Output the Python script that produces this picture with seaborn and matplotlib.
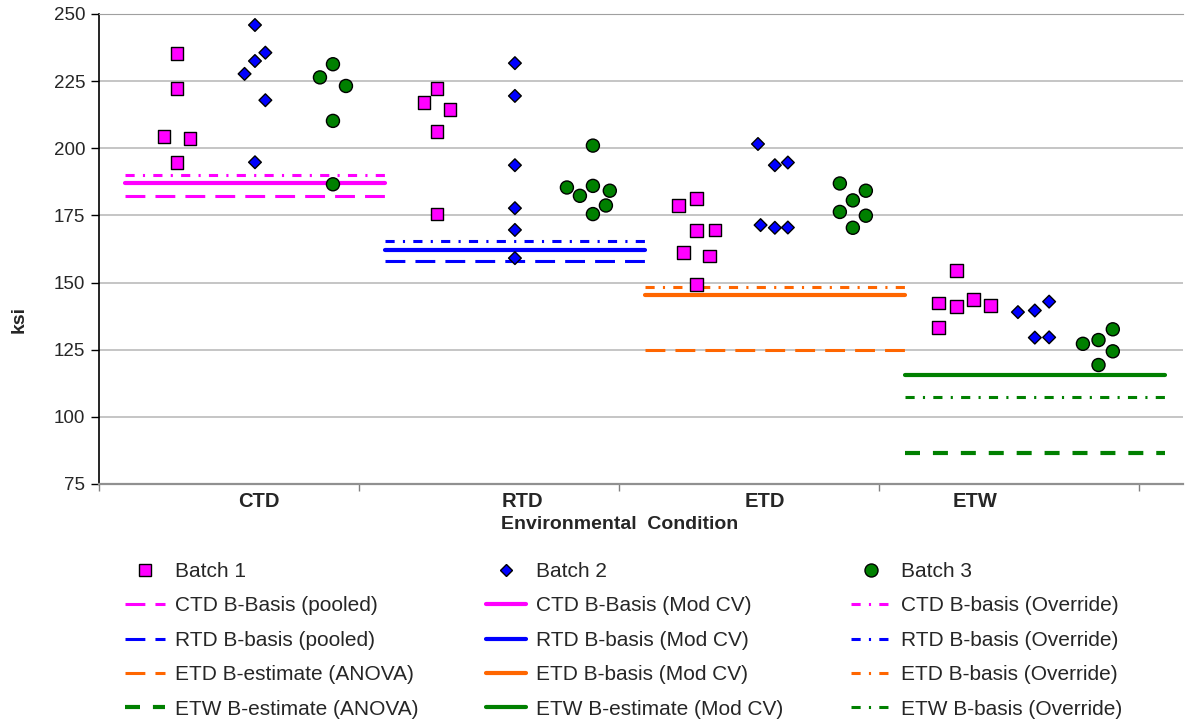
import pandas as pd
import matplotlib
matplotlib.use("Agg")
import matplotlib.pyplot as plt
from matplotlib.lines import Line2D
import seaborn as sns

# environmental conditions and where their names sit on the x axis
conditions = ["CTD", "RTD", "ETD", "ETW"]
condition_label_x = [0.615, 1.63, 2.56, 3.37]

# individual specimen strengths (ksi), x is the plotting position used in the sheet
batch1_x = [0.25, 0.30, 0.30, 0.30, 0.35,
            1.30, 1.25, 1.35, 1.30, 1.30,
            2.30, 2.23, 2.30, 2.37, 2.25, 2.35, 2.30,
            3.30, 3.23, 3.30, 3.365, 3.43, 3.23]
batch1_ksi = [204.4, 235.4, 222.4, 194.7, 203.5,
              222.2, 217.0, 214.5, 206.2, 175.5,
              181.2, 178.6, 169.3, 169.6, 161.3, 159.9, 149.4,
              154.4, 142.4, 141.2, 143.6, 141.5, 133.4]

batch2_x = [0.60, 0.60, 0.64, 0.56, 0.64, 0.60,
            1.60, 1.60, 1.60, 1.60, 1.60, 1.60,
            2.535, 2.60, 2.65, 2.545, 2.60, 2.65,
            3.535, 3.60, 3.655, 3.60, 3.655]
batch2_ksi = [245.9, 232.5, 235.6, 227.7, 217.9, 194.8,
              231.7, 219.5, 193.7, 177.7, 169.6, 159.1,
              201.6, 193.7, 194.7, 171.4, 170.4, 170.5,
              139.0, 139.6, 142.9, 129.5, 129.6]

batch3_x = [0.90, 0.85, 0.95, 0.90, 0.90,
            1.90, 1.80, 1.85, 1.90, 1.965, 1.95, 1.90,
            2.85, 2.95, 2.90, 2.85, 2.95, 2.90,
            3.90, 3.785, 3.845, 3.90, 3.845]
batch3_ksi = [231.3, 226.4, 223.2, 210.2, 186.6,
              201.0, 185.4, 182.3, 186.0, 184.2, 178.7, 175.5,
              186.9, 184.2, 180.6, 176.3, 174.9, 170.4,
              132.6, 127.2, 128.6, 124.4, 119.3]

# basis values per condition
pooled_anova = [182.4, 158.0, 124.9, 86.6]
mod_cv = [187.2, 162.2, 145.2, 115.6]
override = [190.1, 165.4, 148.3, 107.3]

pooled_labels = ["CTD B-Basis (pooled)", "RTD B-basis (pooled)",
                 "ETD B-estimate (ANOVA)", "ETW B-estimate (ANOVA)"]
modcv_labels = ["CTD B-Basis (Mod CV)", "RTD B-basis (Mod CV)",
                "ETD B-basis (Mod CV)", "ETW B-estimate (Mod CV)"]
override_labels = ["CTD B-basis (Override)", "RTD B-basis (Override)",
                   "ETD B-basis (Override)", "ETW B-basis (Override)"]

cond_colors = ["#ff00ff", "#0000ff", "#ff6600", "#008000"]
batch_colors = {"Batch 1": "#ff00ff", "Batch 2": "#0000ff", "Batch 3": "#008000"}
batch_markers = {"Batch 1": "s", "Batch 2": "D", "Batch 3": "o"}
batch_sizes = {"Batch 1": 85, "Batch 2": 42, "Batch 3": 88}

df = pd.concat([
    pd.DataFrame({"x": batch1_x, "ksi": batch1_ksi, "Batch": "Batch 1"}),
    pd.DataFrame({"x": batch2_x, "ksi": batch2_ksi, "Batch": "Batch 2"}),
    pd.DataFrame({"x": batch3_x, "ksi": batch3_ksi, "Batch": "Batch 3"}),
], ignore_index=True)

sns.set_style("white")
plt.rcParams["font.family"] = ["Liberation Sans", "DejaVu Sans"]

fig = plt.figure(figsize=(11.87, 7.26), dpi=100)
ax = fig.add_axes([99 / 1187, 1 - 484 / 726, 1084 / 1187, 470 / 726])

sns.scatterplot(data=df, x="x", y="ksi", hue="Batch", style="Batch", size="Batch",
                palette=batch_colors, markers=batch_markers, sizes=batch_sizes,
                edgecolor="black", linewidth=1, legend=False, ax=ax, zorder=4)

dash_pooled = (6.5, 3.3)
dash_etw = (3.6, 3.1)
dash_override = (3.0, 2.7, 0.7, 2.7)

pooled_handles, modcv_handles, override_handles = [], [], []
for i, cond in enumerate(conditions):
    xs = [i + 0.1, i + 1.1]
    if cond == "ETW":
        h1, = ax.plot(xs, [pooled_anova[i]] * 2, color=cond_colors[i], lw=3.0, dashes=dash_etw)
    else:
        h1, = ax.plot(xs, [pooled_anova[i]] * 2, color=cond_colors[i], lw=2.2, dashes=dash_pooled)
    h2, = ax.plot(xs, [mod_cv[i]] * 2, color=cond_colors[i], lw=3.0)
    h3, = ax.plot(xs, [override[i]] * 2, color=cond_colors[i], lw=2.2, dashes=dash_override)
    pooled_handles.append(h1)
    modcv_handles.append(h2)
    override_handles.append(h3)

ax.set_xlim(0, 4.17)
ax.set_ylim(75, 250)
ax.set_yticks(range(75, 251, 25))
ax.set_xticks(range(5))
ax.set_xticklabels([])
ax.set_xticks(condition_label_x, minor=True)
ax.set_xticklabels(conditions, minor=True, fontweight="bold", fontsize=14.5)
ax.tick_params(axis="x", which="minor", length=0, pad=6)
ax.tick_params(axis="x", which="major", bottom=True, length=5, color="#808080", width=1)
ax.tick_params(axis="y", left=True, length=6, color="black", width=1, labelsize=13.5, pad=4)

ax.yaxis.grid(True, color="#c0c0c0", lw=1.3)
ax.set_axisbelow(True)
ax.spines["right"].set_visible(False)
ax.spines["top"].set_color("#a0a0a0")
ax.spines["left"].set_color("black")
ax.spines["left"].set_linewidth(1.2)
ax.spines["bottom"].set_color("#909090")
ax.spines["bottom"].set_linewidth(1.6)

ax.set_ylabel("ksi", fontweight="bold", fontsize=14)
ax.yaxis.set_label_coords(-0.066, 0.35)
ax.set_xlabel("Environmental  Condition", fontweight="bold", fontsize=14)
ax.xaxis.set_label_coords(0.48, -0.068)

batch_handles = [Line2D([], [], ls="none", marker=batch_markers[b], color=batch_colors[b],
                        markeredgecolor="black", markeredgewidth=1,
                        markersize=batch_sizes[b] ** 0.5)
                 for b in ["Batch 1", "Batch 2", "Batch 3"]]

handles = ([batch_handles[0]] + pooled_handles
           + [batch_handles[1]] + modcv_handles
           + [batch_handles[2]] + override_handles)
labels = (["Batch 1"] + pooled_labels + ["Batch 2"] + modcv_labels
          + ["Batch 3"] + override_labels)

fig.legend(handles, labels, ncol=3, loc="upper left",
           bbox_to_anchor=(125 / 1187, 1 - 562 / 726), frameon=False,
           fontsize=15, handlelength=1.9, handletextpad=0.5,
           columnspacing=3.25, labelspacing=0.74, borderpad=0, borderaxespad=0)

plt.savefig("out.png", dpi=100)
